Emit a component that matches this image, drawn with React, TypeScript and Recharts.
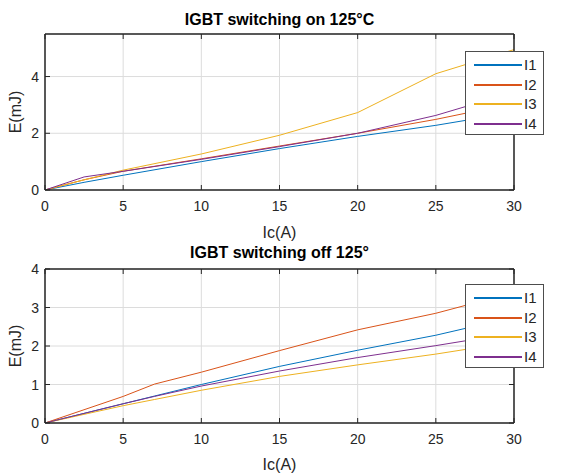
import React from 'react';
import { LineChart, Line, XAxis, YAxis, CartesianGrid } from 'recharts';

const seriesNames = ['I1', 'I2', 'I3', 'I4'];
const seriesColors = ['#0072BD', '#D95319', '#EDB120', '#7E2F8E'];
const xTicks = [0, 5, 10, 15, 20, 25, 30];

// switching on, 125°C
const onCurrent = [0, 2.5, 5, 10, 15, 20, 25, 30];
const onI1 = [0, 0.27, 0.52, 1.0, 1.46, 1.89, 2.28, 2.74];
const onI2 = [0, 0.36, 0.66, 1.1, 1.55, 2.0, 2.49, 3.06];
const onI3 = [0, 0.36, 0.7, 1.27, 1.93, 2.73, 4.1, 4.95];
const onI4 = [0, 0.46, 0.66, 1.08, 1.53, 2.0, 2.63, 3.45];
const onTicks = [0, 2, 4];

// switching off, 125°
const offCurrent = [0, 5, 7, 10, 15, 20, 25, 30];
const offI1 = [0, 0.5, 0.7, 1.0, 1.47, 1.89, 2.28, 2.75];
const offI2 = [0, 0.69, 1.01, 1.32, 1.88, 2.42, 2.85, 3.39];
const offI3 = [0, 0.45, 0.61, 0.85, 1.21, 1.51, 1.79, 2.11];
const offI4 = [0, 0.5, 0.69, 0.96, 1.35, 1.7, 2.01, 2.34];
const offTicks = [0, 1, 2, 3, 4];

const ink = '#262626';
const font = 'Arial, "Liberation Sans", Helvetica, sans-serif';

const buildRows = (xs: number[], series: number[][]) =>
  xs.map((x, i) => {
    const row: Record<string, number> = { x };
    seriesNames.forEach((n, k) => (row[n] = series[k][i]));
    return row;
  });

const BottomTick = ({ x, y, payload }: any) => (
  <g>
    <line x1={x} y1={y} x2={x} y2={y - 5} stroke={ink} />
    <text x={x} y={y + 21} textAnchor="middle" fill={ink} fontSize={14} fontFamily={font}>
      {payload.value}
    </text>
  </g>
);
const TopTick = ({ x, y }: any) => <line x1={x} y1={y} x2={x} y2={y + 5} stroke={ink} />;
const LeftTick = ({ x, y, payload }: any) => (
  <g>
    <line x1={x} y1={y} x2={x + 5} y2={y} stroke={ink} />
    <text x={x - 6} y={y + 5} textAnchor="end" fill={ink} fontSize={14} fontFamily={font}>
      {payload.value}
    </text>
  </g>
);
const RightTick = ({ x, y }: any) => <line x1={x - 5} y1={y} x2={x} y2={y} stroke={ink} />;

interface PlotProps {
  top: number;
  marginTop: number;
  xAxisHeight: number;
  labelOffset: number;
  title: string;
  titleTop: number;
  rows: Record<string, number>[];
  yMax: number;
  yTicks: number[];
  legendTop: number;
}

const SwitchPlot: React.FC<PlotProps> = ({ top, marginTop, xAxisHeight, labelOffset, title, titleTop, rows, yMax, yTicks, legendTop }) => (
  <>
    <div style={{ position: 'absolute', left: 0, top }}>
      <LineChart width={568} height={250} data={rows} margin={{ top: marginTop - 1, right: 53, left: 0, bottom: 0 }}>
        <CartesianGrid stroke="#dcdcdc" />
        <XAxis dataKey="x" type="number" domain={[0, 30]} ticks={xTicks} height={xAxisHeight}
          tickSize={0} tickMargin={0} tickLine={false} tick={BottomTick} stroke={ink} strokeWidth={1.5}
          label={{ value: 'Ic(A)', position: 'insideBottom', offset: labelOffset, fill: ink, fontSize: 16, fontFamily: font }} />
        <XAxis xAxisId="top" dataKey="x" orientation="top" type="number" domain={[0, 30]} ticks={xTicks} height={1}
          tickSize={0} tickMargin={0} tickLine={false} tick={TopTick} stroke={ink} strokeWidth={1.5} />
        <YAxis type="number" domain={[0, yMax]} ticks={yTicks} width={45} allowDataOverflow
          tickSize={0} tickMargin={0} tickLine={false} tick={LeftTick} stroke={ink} strokeWidth={1.5}
          label={{ value: 'E(mJ)', angle: -90, position: 'insideLeft', offset: 15, fill: ink, fontSize: 16, fontFamily: font, style: { textAnchor: 'middle' } }} />
        <YAxis yAxisId="right" orientation="right" type="number" domain={[0, yMax]} ticks={yTicks} width={1} allowDataOverflow
          tickSize={0} tickMargin={0} tickLine={false} tick={RightTick} stroke={ink} strokeWidth={1.5} />
        {/* invisible series that binds the box axes (top / right) */}
        <Line xAxisId="top" yAxisId="right" dataKey={seriesNames[0]} stroke="none" dot={false} activeDot={false} legendType="none" isAnimationActive={false} />
        {seriesNames.map((n, k) => (
          <Line key={n} type="linear" dataKey={n} stroke={seriesColors[k]} strokeWidth={1} dot={false} isAnimationActive={false} />
        ))}
      </LineChart>
    </div>
    <div style={{ position: 'absolute', left: 45, width: 469, top: titleTop, textAlign: 'center', fontFamily: font, fontWeight: 'bold', fontSize: 16, color: '#000', lineHeight: '20px' }}>
      {title}
    </div>
    <div style={{ position: 'absolute', left: 465, top: legendTop, width: 79, height: 84, boxSizing: 'border-box', border: '1px solid #4d4d4d', background: '#fff' }}>
      {seriesNames.map((n, k) => (
        <div key={n} style={{ position: 'absolute', left: 0, top: 3 + k * 19.6, height: 20, width: 79 }}>
          <div style={{ position: 'absolute', left: 8, top: 9, width: 48, height: 2, background: seriesColors[k] }} />
          <div style={{ position: 'absolute', left: 58, top: 0, lineHeight: '20px', fontFamily: font, fontSize: 15, color: ink }}>{n}</div>
        </div>
      ))}
    </div>
  </>
);

export default function App() {
  const onRows = buildRows(onCurrent, [onI1, onI2, onI3, onI4]);
  const offRows = buildRows(offCurrent, [offI1, offI2, offI3, offI4]);
  return (
    <div style={{ position: 'absolute', left: 0, top: 0, width: 568, height: 473, background: '#fff', overflow: 'hidden' }}>
      <SwitchPlot top={0} marginTop={34} xAxisHeight={60} labelOffset={12} title="IGBT switching on 125°C" titleTop={10}
        rows={onRows} yMax={5.5} yTicks={onTicks} legendTop={51} />
      <SwitchPlot top={236} marginTop={33} xAxisHeight={63} labelOffset={16} title="IGBT switching off 125°" titleTop={243}
        rows={offRows} yMax={4} yTicks={offTicks} legendTop={284} />
    </div>
  );
}
